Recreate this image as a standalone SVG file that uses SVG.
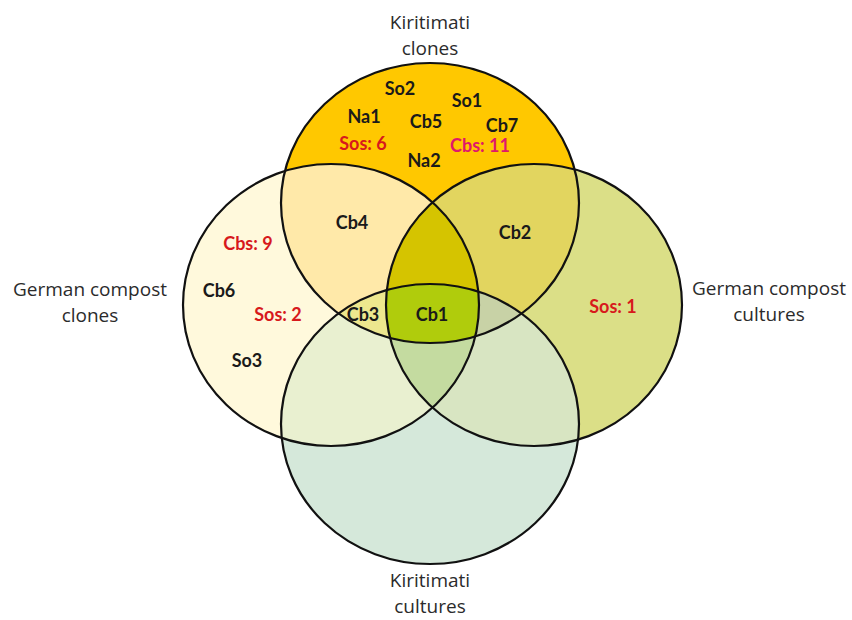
<svg xmlns="http://www.w3.org/2000/svg" xmlns:xlink="http://www.w3.org/1999/xlink" width="852" height="620" viewBox="0 0 852 620">
<style>
.ol{fill:none;stroke:#111;stroke-width:2.2}
.set{font-family:"Open Sans","Liberation Sans",sans-serif;font-size:19px;fill:#2b2b2b;text-anchor:middle}
.el{font-family:Lato,"Open Sans","Liberation Sans",sans-serif;font-size:18px;font-weight:bold;fill:#1a1a1a;text-anchor:middle}
.red{fill:#d7191c}
.mag{fill:#e0186a}
</style>
<defs>
<ellipse id="eT" cx="430" cy="203" rx="149" ry="140"/>
<ellipse id="eL" cx="331" cy="305" rx="148" ry="141"/>
<ellipse id="eR" cx="534" cy="305" rx="148" ry="141"/>
<ellipse id="eB" cx="430" cy="424" rx="149" ry="140"/>
<clipPath id="cT"><use href="#eT"/></clipPath>
<clipPath id="cL"><use href="#eL"/></clipPath>
<clipPath id="cR"><use href="#eR"/></clipPath>
<clipPath id="cB"><use href="#eB"/></clipPath>
</defs>
<rect width="852" height="620" fill="#ffffff"/>
<g id="regions">
<use href="#eT" fill="#FFC800"/>
<use href="#eL" fill="#FFF9DC"/>
<use href="#eR" fill="#DBDF87"/>
<use href="#eB" fill="#D5E8DA"/>
<g clip-path="url(#cT)"><use href="#eL" fill="#FFE9A9"/></g>
<g clip-path="url(#cT)"><use href="#eR" fill="#E2D55F"/></g>
<g clip-path="url(#cT)"><use href="#eB" fill="#E6DE9A"/></g>
<g clip-path="url(#cL)"><use href="#eR" fill="#DCE3A0"/></g>
<g clip-path="url(#cL)"><use href="#eB" fill="#E9F0D0"/></g>
<g clip-path="url(#cR)"><use href="#eB" fill="#D8E5C2"/></g>
<g clip-path="url(#cT)"><g clip-path="url(#cL)"><use href="#eR" fill="#D5C400"/></g></g>
<g clip-path="url(#cT)"><g clip-path="url(#cL)"><use href="#eB" fill="#EDE78E"/></g></g>
<g clip-path="url(#cT)"><g clip-path="url(#cR)"><use href="#eB" fill="#C8D2A6"/></g></g>
<g clip-path="url(#cL)"><g clip-path="url(#cR)"><use href="#eB" fill="#C4DBA0"/></g></g>
<g clip-path="url(#cT)"><g clip-path="url(#cL)"><g clip-path="url(#cR)"><use href="#eB" fill="#B0CC0C"/></g></g></g>
</g>
<g id="kiritimati-clones">
<use href="#eT" class="ol"/>
<text class="set" x="430" y="29">Kiritimati</text>
<text class="set" x="430" y="55">clones</text>
</g>
<g id="german-compost-clones">
<use href="#eL" class="ol"/>
<text class="set" x="90" y="296">German compost</text>
<text class="set" x="90" y="322">clones</text>
</g>
<g id="german-compost-cultures">
<use href="#eR" class="ol"/>
<text class="set" x="769" y="295">German compost</text>
<text class="set" x="769" y="321">cultures</text>
</g>
<g id="kiritimati-cultures">
<use href="#eB" class="ol"/>
<text class="set" x="430" y="587">Kiritimati</text>
<text class="set" x="430" y="613">cultures</text>
</g>
<g id="elements">
<text class="el" x="400" y="95">So2</text>
<text class="el" x="467" y="107">So1</text>
<text class="el" x="364" y="123">Na1</text>
<text class="el" x="426" y="128">Cb5</text>
<text class="el" x="502" y="132">Cb7</text>
<text class="el red" x="363" y="150">Sos: 6</text>
<text class="el mag" x="480" y="152">Cbs: 11</text>
<text class="el" x="424" y="167">Na2</text>
<text class="el" x="352" y="229">Cb4</text>
<text class="el" x="515" y="239">Cb2</text>
<text class="el red" x="248" y="250">Cbs: 9</text>
<text class="el" x="219" y="297">Cb6</text>
<text class="el red" x="278" y="321">Sos: 2</text>
<text class="el" x="363" y="321">Cb3</text>
<text class="el" x="432" y="321">Cb1</text>
<text class="el red" x="613" y="313">Sos: 1</text>
<text class="el" x="247" y="367">So3</text>
</g>
</svg>
